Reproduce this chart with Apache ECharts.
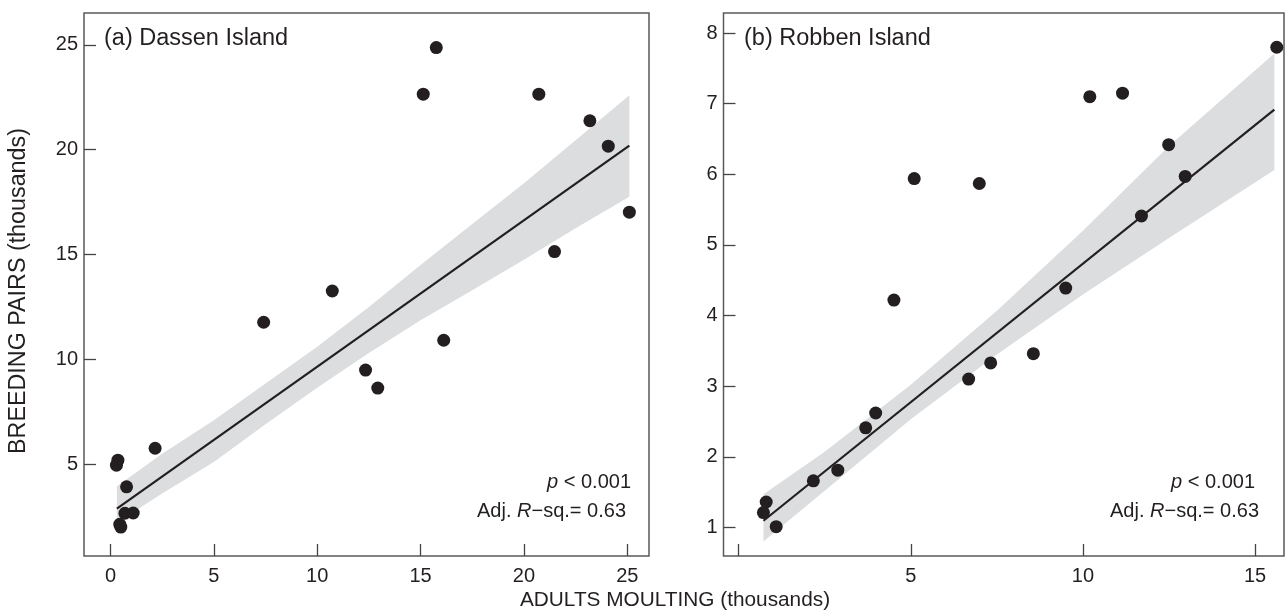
<!DOCTYPE html>
<html>
<head>
<meta charset="utf-8">
<script src="https://cdn.jsdelivr.net/npm/echarts@6/dist/echarts.min.js"></script>
<style>
html, body { margin: 0; padding: 0; background: #fff; }
#main { width: 1287px; height: 612px; }
</style>
</head>
<body>
<div id="main"></div>
<script>
// (a) Dassen Island
var dassenMoult = [15.76, 15.13, 20.72, 23.19, 24.08, 25.1, 21.48, 10.73, 7.41, 16.12, 12.34, 12.93, 2.16, 0.36, 0.29, 0.78, 0.70, 1.10, 0.45, 0.50];
var dassenPairs = [24.87, 22.65, 22.65, 21.38, 20.17, 17.02, 15.14, 13.26, 11.77, 10.91, 9.49, 8.63, 5.76, 5.19, 4.95, 3.92, 2.66, 2.67, 2.13, 2.0];
var dassenFitX = [0.31, 25.1];
var dassenFitY = [2.875, 20.19];
var dassenBandX = [0.31, 2.5, 5, 7.5, 10, 12.5, 15, 17.5, 20, 22.5, 25.1];
var dassenBandHi = [3.95, 5.5, 7.1, 8.85, 10.6, 12.5, 14.5, 16.45, 18.4, 20.45, 22.6];
var dassenBandLo = [2.2, 3.6, 5.1, 6.9, 8.65, 10.3, 11.86, 13.3, 14.75, 16.25, 17.75];

// (b) Robben Island
var robbenMoult = [15.63, 10.20, 11.15, 12.49, 12.97, 11.70, 5.10, 6.99, 4.51, 9.50, 8.56, 7.32, 6.68, 3.98, 3.69, 2.88, 2.17, 0.80, 0.72, 1.09];
var robbenPairs = [7.80, 7.10, 7.15, 6.42, 5.97, 5.41, 5.94, 5.87, 4.22, 4.39, 3.46, 3.33, 3.10, 2.62, 2.41, 1.81, 1.66, 1.36, 1.21, 1.01];
var robbenFitX = [0.72, 15.56];
var robbenFitY = [1.094, 6.916];
var robbenBandX = [0.72, 2.5, 5, 7.5, 10, 12.5, 15.56];
var robbenBandHi = [1.47, 2.07, 3.02, 4.07, 5.2, 6.4, 7.71];
var robbenBandLo = [0.8, 1.52, 2.53, 3.45, 4.3, 5.1, 6.06];

var ticksDassenX = [0, 5, 10, 15, 20, 25];
var ticksDassenY = [5, 10, 15, 20, 25];
var ticksRobbenX = [0, 5, 10, 15];
var labelsRobbenX = [5, 10, 15];
var ticksRobbenY = [1, 2, 3, 4, 5, 6, 7, 8];

var ink = '#231f20';
var font = 'Liberation Sans, Arial, sans-serif';

function pairs(xs, ys) {
    return xs.map(function (x, i) { return [x, ys[i]]; });
}

// confidence band drawn as a polygon through the axis scales
function bandSeries(idx, bx, hi, lo) {
    return {
        type: 'custom',
        xAxisIndex: idx,
        yAxisIndex: idx,
        z: 1,
        silent: true,
        data: [[bx[0], lo[0]]],
        renderItem: function (params, api) {
            var pts = [];
            for (var i = 0; i < bx.length; i++) pts.push(api.coord([bx[i], hi[i]]));
            for (var j = bx.length - 1; j >= 0; j--) pts.push(api.coord([bx[j], lo[j]]));
            return { type: 'polygon', shape: { points: pts }, style: { fill: '#dcdddf' } };
        }
    };
}

function xAx(idx, min, max, ticks, labels) {
    return {
        type: 'value', gridIndex: idx, min: min, max: max,
        splitLine: { show: false },
        axisLine: { show: false, onZero: false },
        axisTick: { show: true, inside: true, length: 12, customValues: ticks, lineStyle: { color: '#444', width: 1.3 } },
        axisLabel: { customValues: labels, margin: 10, color: ink, fontSize: 20, fontFamily: font }
    };
}

function yAx(idx, min, max, ticks) {
    return {
        type: 'value', gridIndex: idx, min: min, max: max,
        splitLine: { show: false },
        axisLine: { show: false, onZero: false },
        axisTick: { show: true, inside: true, length: 12, customValues: ticks, lineStyle: { color: '#444', width: 1.3 } },
        axisLabel: { customValues: ticks, margin: 6, color: ink, fontSize: 20, fontFamily: font }
    };
}

var chart = echarts.init(document.getElementById('main'));

var gridStyle = { show: true, borderColor: '#5a5a5a', borderWidth: 1.5, backgroundColor: 'transparent' };

var statText = function (x, y, txt) {
    return {
        type: 'text', x: x, y: y, z: 10,
        style: {
            text: txt,
            rich: { i: { fontStyle: 'italic', fontSize: 20, fontFamily: font, fill: ink } },
            fontSize: 20, fontFamily: font, fill: ink, align: 'right', verticalAlign: 'middle'
        }
    };
};

var option = {
    animation: false,
    grid: [
        Object.assign({ left: 84, top: 13, width: 565, height: 543 }, gridStyle),
        Object.assign({ left: 723.5, top: 13, width: 560.5, height: 543 }, gridStyle)
    ],
    xAxis: [
        xAx(0, -1.28, 26.05, ticksDassenX, ticksDassenX),
        xAx(1, -0.44, 15.84, ticksRobbenX, labelsRobbenX)
    ],
    yAxis: [
        yAx(0, 0.62, 26.52, ticksDassenY),
        yAx(1, 0.595, 8.285, ticksRobbenY)
    ],
    series: [
        bandSeries(0, dassenBandX, dassenBandHi, dassenBandLo),
        bandSeries(1, robbenBandX, robbenBandHi, robbenBandLo),
        {
            type: 'line', xAxisIndex: 0, yAxisIndex: 0, z: 2, silent: true,
            data: pairs(dassenFitX, dassenFitY), symbol: 'none',
            lineStyle: { color: ink, width: 2.2 }
        },
        {
            type: 'line', xAxisIndex: 1, yAxisIndex: 1, z: 2, silent: true,
            data: pairs(robbenFitX, robbenFitY), symbol: 'none',
            lineStyle: { color: ink, width: 2.2 }
        },
        {
            type: 'scatter', xAxisIndex: 0, yAxisIndex: 0, z: 3,
            data: pairs(dassenMoult, dassenPairs), symbolSize: 13,
            itemStyle: { color: ink, opacity: 1 }
        },
        {
            type: 'scatter', xAxisIndex: 1, yAxisIndex: 1, z: 3,
            data: pairs(robbenMoult, robbenPairs), symbolSize: 13,
            itemStyle: { color: ink, opacity: 1 }
        }
    ],
    graphic: [
        { type: 'text', x: 104, y: 39, style: { text: '(a) Dassen Island', fontSize: 23.5, fontFamily: font, fill: ink, verticalAlign: 'middle' } },
        { type: 'text', x: 744, y: 39, style: { text: '(b) Robben Island', fontSize: 23.5, fontFamily: font, fill: ink, verticalAlign: 'middle' } },
        statText(631, 482, '{i|p} < 0.001'),
        statText(626, 511, 'Adj. {i|R}\u2212sq.= 0.63'),
        statText(1255, 482, '{i|p} < 0.001'),
        statText(1259, 511, 'Adj. {i|R}\u2212sq.= 0.63'),
        {
            type: 'text', x: 19, y: 291, rotation: Math.PI / 2,
            style: { text: 'BREEDING PAIRS (thousands)', fontSize: 23.3, fontFamily: font, fill: ink, align: 'center', verticalAlign: 'middle' }
        },
        {
            type: 'text', x: 675, y: 600,
            style: { text: 'ADULTS MOULTING (thousands)', fontSize: 20.8, fontFamily: font, fill: ink, align: 'center', verticalAlign: 'middle' }
        }
    ]
};

chart.setOption(option);
</script>
</body>
</html>
